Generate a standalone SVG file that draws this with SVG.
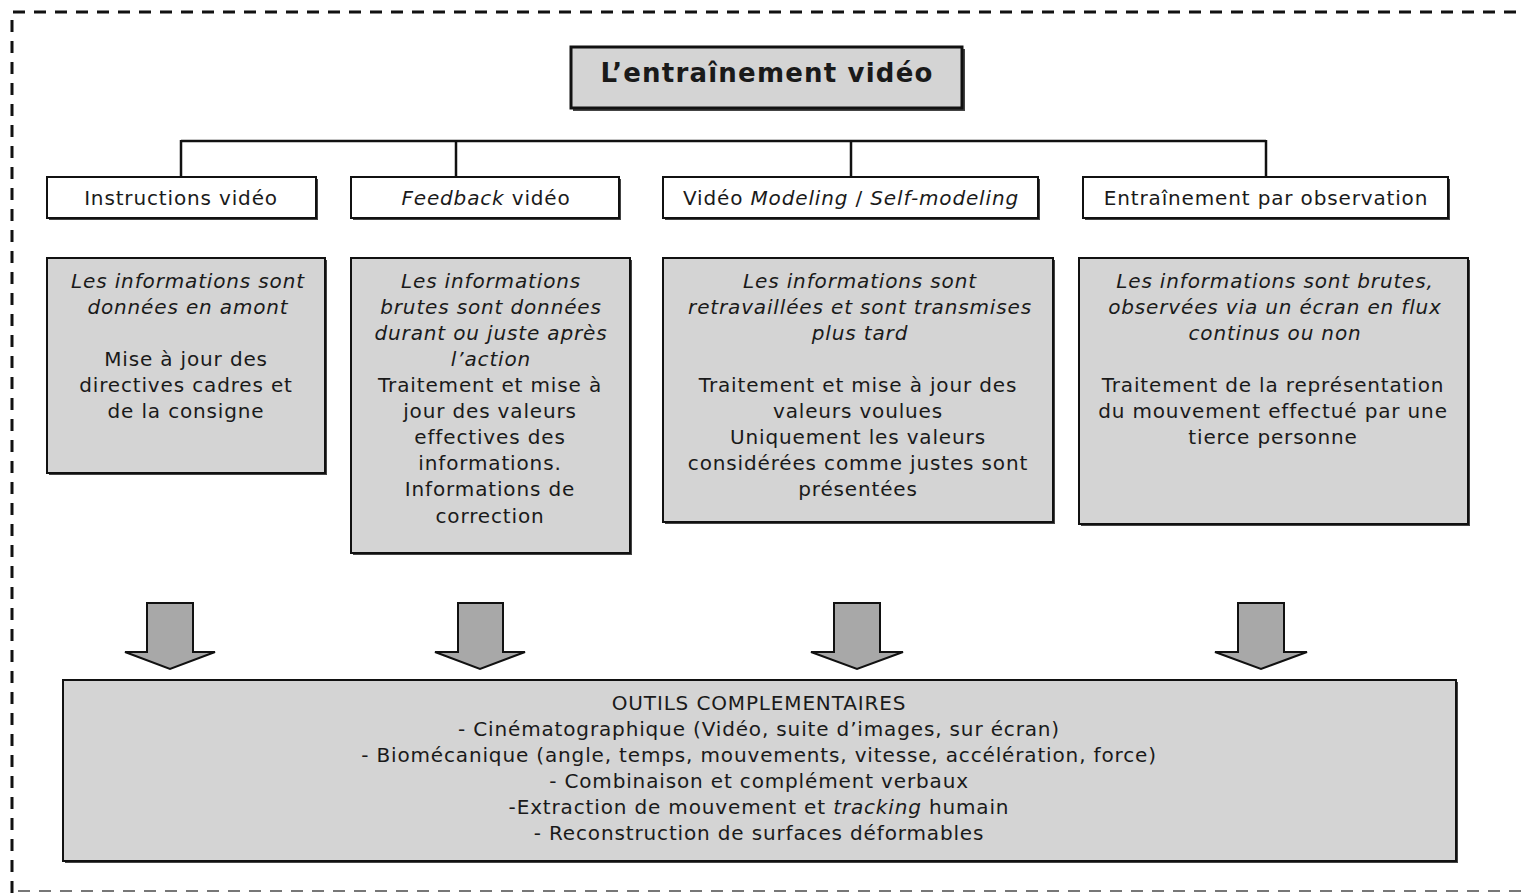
<svg xmlns="http://www.w3.org/2000/svg" width="1521" height="895" viewBox="0 0 1521 895">
<defs>
<style>
text{font-family:"DejaVu Sans","Liberation Sans",sans-serif;font-size:20px;letter-spacing:0.85px;fill:#1a1a1a;text-anchor:middle}
.i{font-style:italic}
.t{font-weight:bold;font-size:26px;letter-spacing:1.2px}
.box{fill:#d4d4d4;stroke:#111;stroke-width:2}
.hdr{fill:#fff;stroke:#111;stroke-width:2}
.sh{fill:#444}
.ln{stroke:#111;stroke-width:2.5;fill:none}
.arr{fill:#a8a8a8;stroke:#111;stroke-width:2}
</style>
</defs>
<rect x="0" y="0" width="1521" height="895" fill="#fff"/>
<path d="M12,893 V12 H1521" fill="none" stroke="#111" stroke-width="3" stroke-dasharray="12,9"/>
<path d="M18,891 H1521" fill="none" stroke="#777" stroke-width="2" stroke-dasharray="12,9"/>

<g id="connectors">
<path class="ln" d="M181,141 H1266 M181,140 V177 M456,140 V177 M851,140 V177 M1266,140 V177"/>
<g id="arrows">
<path class="arr" d="M147,603 H193 V652 H215 L170,669 L125,652 H147 Z"/>
<path class="arr" d="M458,603 H503 V652 H525 L480,669 L435,652 H458 Z"/>
<path class="arr" d="M834,603 H880 V652 H903 L857,669 L811,652 H834 Z"/>
<path class="arr" d="M1238,603 H1284 V652 H1307 L1261,669 L1215,652 H1238 Z"/>
</g>
</g>

<g id="title">
<rect class="sh" x="573" y="49" width="392" height="62"/>
<rect x="571" y="47" width="391" height="61" fill="#d4d4d4" stroke="#111" stroke-width="3"/>
<text class="t" x="767" y="82">L’entraînement vidéo</text>
</g>

<g id="h1"><rect class="sh" x="49" y="179" width="269" height="41"/><rect class="hdr" x="47" y="177" width="269" height="41"/><text x="181" y="205">Instructions vidéo</text></g>
<g id="h2"><rect class="sh" x="353" y="179" width="268" height="41"/><rect class="hdr" x="351" y="177" width="268" height="41"/><text x="486" y="205"><tspan class="i">Feedback</tspan> vidéo</text></g>
<g id="h3"><rect class="sh" x="665" y="179" width="375" height="41"/><rect class="hdr" x="663" y="177" width="375" height="41"/><text x="851" y="205">Vidéo <tspan class="i">Modeling</tspan> / <tspan class="i">Self-modeling</tspan></text></g>
<g id="h4"><rect class="sh" x="1085" y="179" width="365" height="41"/><rect class="hdr" x="1083" y="177" width="365" height="41"/><text x="1266" y="205">Entraînement par observation</text></g>

<g id="c1"><rect class="sh" x="49" y="260" width="278" height="215"/><rect class="box" x="47" y="258" width="278" height="215"/>
<text class="i" x="188" y="288">Les informations sont</text>
<text class="i" x="188" y="314">données en amont</text>
<text x="186" y="366">Mise à jour des</text>
<text x="186" y="392">directives cadres et</text>
<text x="186" y="418">de la consigne</text>
</g>
<g id="c2"><rect class="sh" x="353" y="260" width="279" height="295"/><rect class="box" x="351" y="258" width="279" height="295"/>
<text class="i" x="491" y="288">Les informations</text>
<text class="i" x="491" y="314">brutes sont données</text>
<text class="i" x="491" y="340">durant ou juste après</text>
<text class="i" x="491" y="366">l’action</text>
<text x="490" y="392">Traitement et mise à</text>
<text x="490" y="418">jour des valeurs</text>
<text x="490" y="444">effectives des</text>
<text x="490" y="470">informations.</text>
<text x="490" y="496">Informations de</text>
<text x="490" y="523">correction</text>
</g>
<g id="c3"><rect class="sh" x="665" y="260" width="390" height="264"/><rect class="box" x="663" y="258" width="390" height="264"/>
<text class="i" x="860" y="288">Les informations sont</text>
<text class="i" x="860" y="314">retravaillées et sont transmises</text>
<text class="i" x="860" y="340">plus tard</text>
<text x="858" y="392">Traitement et mise à jour des</text>
<text x="858" y="418">valeurs voulues</text>
<text x="858" y="444">Uniquement les valeurs</text>
<text x="858" y="470">considérées comme justes sont</text>
<text x="858" y="496">présentées</text>
</g>
<g id="c4"><rect class="sh" x="1081" y="260" width="389" height="266"/><rect class="box" x="1079" y="258" width="389" height="266"/>
<text class="i" x="1275" y="288">Les informations sont brutes,</text>
<text class="i" x="1275" y="314">observées via un écran en flux</text>
<text class="i" x="1275" y="340">continus ou non</text>
<text x="1273" y="392">Traitement de la représentation</text>
<text x="1273" y="418">du mouvement effectué par une</text>
<text x="1273" y="444">tierce personne</text>
</g>

<g id="outils"><rect class="sh" x="65" y="682" width="1393" height="181"/><rect class="box" x="63" y="680" width="1393" height="181"/>
<text x="759" y="710">OUTILS COMPLEMENTAIRES</text>
<text x="759" y="736">- Cinématographique (Vidéo, suite d’images, sur écran)</text>
<text x="759" y="762">- Biomécanique (angle, temps, mouvements, vitesse, accélération, force)</text>
<text x="759" y="788">- Combinaison et complément verbaux</text>
<text x="759" y="814">-Extraction de mouvement et <tspan class="i">tracking</tspan> humain</text>
<text x="759" y="840">- Reconstruction de surfaces déformables</text>
</g>
</svg>
